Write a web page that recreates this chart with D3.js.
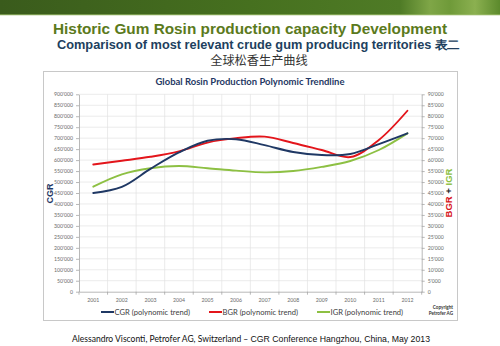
<!DOCTYPE html>
<html><head><meta charset="utf-8">
<script src="https://cdn.jsdelivr.net/npm/d3@7"></script>
<style>html,body{margin:0;padding:0;background:#fff;}svg{display:block;}</style>
</head><body>
<svg id="c" width="500" height="346"></svg>
<script>
const years = ["2001","2002","2003","2004","2005","2006","2007","2008","2009","2010","2011","2012"];
const cgr = [450000, 478000, 560000, 635000, 688000, 695000, 668000, 637000, 623000, 628000, 673000, 722000];
const bgr = [58000, 59700, 61500, 64000, 68000, 70000, 70700, 67800, 64600, 61400, 69200, 82500];
const igr = [47900, 53500, 56300, 57300, 56300, 55200, 54400, 55000, 56900, 59600, 64600, 72200];
const leftTicks = d3.range(0, 900001, 50000);
const rightTicks = d3.range(0, 90001, 5000);
const seriesNames = ["CGR (polynomic trend)", "BGR (polynomic trend)", "IGR (polynomic trend)"];
const colors = ["#1f3864", "#e3151b", "#8dc043"];

const svg = d3.select("#c");
const defs = svg.append("defs");
const g1 = defs.append("linearGradient").attr("id","hdr").attr("x1","0").attr("x2","1").attr("y1","0").attr("y2","0");
[["0","#3a5b1c"],["0.5","#46701f"],["0.8","#4f7b26"],["0.86","#7fa647"],["0.9","#6f9a39"],["0.95","#8bb050"],["1","#5c8a2c"]]
  .forEach(([o,c])=>g1.append("stop").attr("offset",o).attr("stop-color",c));
svg.append("rect").attr("x",0).attr("y",0).attr("width",500).attr("height",15).attr("fill","url(#hdr)");
svg.append("rect").attr("x",0).attr("y",14).attr("width",500).attr("height",1.5).attr("fill","#9dbd6a").attr("opacity",0.6);

svg.append("text").attr("x",250).attr("y",34).attr("text-anchor","middle")
  .attr("font-family","Liberation Sans, Arial, sans-serif").attr("font-weight","bold").attr("font-size",15.5)
  .attr("fill","#5b7a1c").attr("textLength",394).attr("lengthAdjust","spacingAndGlyphs")
  .text("Historic Gum Rosin production capacity Development");
svg.append("text").attr("x",258.5).attr("y",48.5).attr("text-anchor","middle")
  .attr("font-family","Liberation Sans, Arial, sans-serif").attr("font-weight","bold").attr("font-size",12.2)
  .attr("fill","#213f5e").attr("textLength",403).attr("lengthAdjust","spacingAndGlyphs")
  .text("Comparison of most relevant crude gum producing territories 表二");
svg.append("text").attr("x",259).attr("y",65).attr("text-anchor","middle")
  .attr("font-family","Noto Sans CJK SC, sans-serif").attr("font-size",12.2)
  .attr("fill","#333").text("全球松香生产曲线");

// panel
svg.append("rect").attr("x",43.5).attr("y",71.5).attr("width",414).attr("height",249)
  .attr("fill","#fff").attr("stroke","#c8c8c8").attr("stroke-width",1);
svg.append("text").attr("x",250).attr("y",84.5).attr("text-anchor","middle")
  .attr("font-family","Lato, Open Sans, sans-serif").attr("font-weight","bold").attr("font-size",10)
  .attr("fill","#1f3864").attr("textLength",189).attr("lengthAdjust","spacingAndGlyphs")
  .text("Global Rosin Production Polynomic Trendline");

const x0 = 79, x1 = 421.7, yTop = 94.3, yBot = 291.7;
const x = d3.scaleBand().domain(years).range([x0, x1]);
const yL = d3.scaleLinear().domain([0, 900000]).range([yBot, yTop]);
const yR = d3.scaleLinear().domain([0, 90000]).range([yBot, yTop]);
const fmt = v => v === 0 ? "0" : d3.format(",")(v).replace(/,/g, "'");

// gridlines
const grid = svg.append("g");
leftTicks.slice(1).forEach(t => grid.append("line").attr("x1",x0).attr("x2",x1)
  .attr("y1",yL(t)).attr("y2",yL(t)).attr("stroke","#e3e3e3").attr("stroke-width",0.7));
years.slice(1).forEach(yy => grid.append("line").attr("x1",x(yy)).attr("x2",x(yy))
  .attr("y1",yTop).attr("y2",yBot).attr("stroke","#e3e3e3").attr("stroke-width",0.7));

const axStyle = g => {
  g.selectAll("path,line").attr("stroke","#a6a6a6").attr("stroke-width",0.8);
  g.selectAll("text").attr("fill","#6a6a6a").attr("font-family","Lato, Open Sans, sans-serif").attr("font-size",5.2);
};
svg.append("g").attr("transform",`translate(${x0},0)`)
  .call(d3.axisLeft(yL).tickValues(leftTicks).tickFormat(fmt).tickSize(3).tickSizeOuter(0).tickPadding(3))
  .call(axStyle);
svg.append("g").attr("transform",`translate(${x1},0)`)
  .call(d3.axisRight(yR).tickValues(rightTicks).tickFormat(fmt).tickSize(3).tickSizeOuter(0).tickPadding(3))
  .call(axStyle);
const xa = svg.append("g").attr("transform",`translate(0,${yBot})`)
  .call(d3.axisBottom(x).tickSize(0).tickPadding(8)).call(axStyle);
xa.selectAll(".tick text").attr("dy","0.5em");
years.concat(["end"]).forEach((yy,i) => {
  const xx = i < years.length ? x(yy) : x1;
  svg.append("line").attr("x1",xx).attr("x2",xx).attr("y1",yBot).attr("y2",yBot+3).attr("stroke","#a6a6a6").attr("stroke-width",0.8);
});

// lines
const mk = ys => d3.line().x((d,i)=>x(years[i]) + x.bandwidth()/2).y(d=>ys(d)).curve(d3.curveCatmullRom.alpha(0.5));
const series = [[cgr, yL], [bgr, yR], [igr, yR]];
[2,1,0].forEach(i => {
  svg.append("path").attr("d", mk(series[i][1])(series[i][0])).attr("fill","none")
    .attr("stroke",colors[i]).attr("stroke-width",1.9).attr("stroke-linecap","round");
});

// axis titles
svg.append("text").attr("transform","translate(52.5,193.5) rotate(-90)").attr("text-anchor","middle")
  .attr("font-family","Liberation Sans, Arial, sans-serif").attr("font-weight","bold").attr("font-size",9)
  .attr("fill","#1f3864").text("CGR");
const rt = svg.append("text").attr("transform","translate(452,193) rotate(-90)").attr("text-anchor","middle")
  .attr("font-family","Liberation Sans, Arial, sans-serif").attr("font-weight","bold").attr("font-size",9.5);
rt.append("tspan").attr("fill","#d7141c").text("BGR");
rt.append("tspan").attr("fill","#222").text(" + ");
rt.append("tspan").attr("fill","#8dc043").text("IGR");

// legend
const legX = [101, 209, 317];
seriesNames.forEach((n,i) => {
  svg.append("line").attr("x1",legX[i]).attr("x2",legX[i]+13).attr("y1",312).attr("y2",312)
    .attr("stroke",colors[i]).attr("stroke-width",2);
  svg.append("text").attr("x",legX[i]+13.5).attr("y",314.7).attr("font-family","Lato, Open Sans, sans-serif")
    .attr("font-size",7.6).attr("fill","#404040").text(n);
});
svg.append("text").attr("x",453).attr("y",309).attr("text-anchor","end").attr("font-family","Lato, sans-serif")
  .attr("font-weight","bold").attr("font-size",4.6).attr("fill","#333").text("Copyright");
svg.append("text").attr("x",453).attr("y",314.5).attr("text-anchor","end").attr("font-family","Lato, sans-serif")
  .attr("font-weight","bold").attr("font-size",4.6).attr("fill","#333").text("Petrofer AG");

// footer
const ft = svg.append("text").attr("x",72).attr("y",341.5).attr("fill","#111")
  .attr("textLength",358).attr("lengthAdjust","spacingAndGlyphs");
ft.append("tspan").attr("font-family","Lato, Open Sans, sans-serif").attr("font-size",9.2)
  .text("Alessandro Visconti, Petrofer AG, Switzerland – ");
ft.append("tspan").attr("font-family","Liberation Sans, Arial, sans-serif").attr("font-size",9.4)
  .text("CGR Conference Hangzhou, China, May 2013");
</script>
</body></html>
